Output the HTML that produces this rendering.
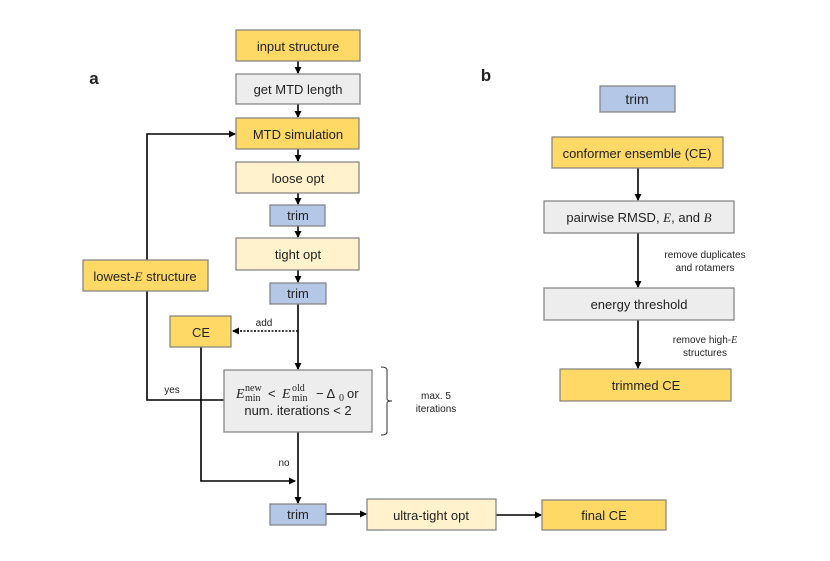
<!DOCTYPE html>
<html><head><meta charset="utf-8"><style>
body{margin:0;background:#fff;}
svg{display:block;font-family:"Liberation Sans",sans-serif;}
.b{stroke:#7f7f7f;stroke-width:1.2;}
.y{fill:#ffd966}.l{fill:#fff2cc}.u{fill:#b4c7e7}.g{fill:#ededed}
text{font-size:13px;fill:#222;text-anchor:middle;}
.s{font-size:10px;}
.m{font-family:"Liberation Serif",serif;font-style:italic;}
.st{font-family:"Liberation Serif",serif;font-size:10px;text-anchor:start;}
.f{text-anchor:start;}
line,path.c{stroke:#000;stroke-width:1.6;fill:none;}
</style></head><body>
<svg width="830" height="561" viewBox="0 0 830 561">
<defs><marker id="a" markerWidth="7" markerHeight="7" refX="6" refY="3.5" orient="auto" markerUnits="userSpaceOnUse"><path d="M0,0L7,3.5L0,7z" fill="#000"/></marker></defs>
<text x="94" y="84" style="font-size:17px;font-weight:bold">a</text>
<text x="486" y="81" style="font-size:17px;font-weight:bold">b</text>
<!-- connectors behind -->
<path class="c" d="M224,400H147V134H235" marker-end="url(#a)"/>
<path class="c" d="M201,347V481H295" marker-end="url(#a)"/>
<line x1="298" y1="61" x2="298" y2="73" marker-end="url(#a)"/>
<line x1="298" y1="104" x2="298" y2="117" marker-end="url(#a)"/>
<line x1="298" y1="149" x2="298" y2="161" marker-end="url(#a)"/>
<line x1="298" y1="193" x2="298" y2="204" marker-end="url(#a)"/>
<line x1="298" y1="226" x2="298" y2="237" marker-end="url(#a)"/>
<line x1="298" y1="270" x2="298" y2="282" marker-end="url(#a)"/>
<line x1="298" y1="304" x2="298" y2="369" marker-end="url(#a)"/>
<line x1="298" y1="331" x2="233" y2="331" style="stroke-dasharray:2 1.5" marker-end="url(#a)"/>
<line x1="298" y1="432" x2="298" y2="503" marker-end="url(#a)"/>
<line x1="326" y1="514" x2="366" y2="514" marker-end="url(#a)"/>
<line x1="496" y1="515" x2="541" y2="515" marker-end="url(#a)"/>
<!-- a column -->
<rect class="b y" x="236" y="30" width="124" height="31"/><text x="298" y="51">input structure</text>
<rect class="b g" x="236" y="74" width="124" height="30"/><text x="298" y="94">get MTD length</text>
<rect class="b y" x="236" y="118" width="123" height="31"/><text x="298" y="139">MTD simulation</text>
<rect class="b l" x="236" y="162" width="123" height="31"/><text x="298" y="183">loose opt</text>
<rect class="b u" x="270" y="205" width="55" height="21"/><text x="298" y="220">trim</text>
<rect class="b l" x="236" y="238" width="123" height="32"/><text x="298" y="259">tight opt</text>
<rect class="b u" x="270" y="283" width="56" height="21"/><text x="298" y="298">trim</text>
<rect class="b y" x="170" y="316" width="61" height="31"/><text x="201" y="337">CE</text>
<rect class="b y" x="83" y="260" width="125" height="31"/><text x="145" y="281">lowest-<tspan class="m">E</tspan> structure</text>
<rect class="b g" x="224" y="370" width="148" height="62"/>
<text x="236" y="398" class="m f" style="font-size:14px">E</text>
<text x="245" y="391" class="st">new</text>
<text x="245" y="401" class="st">min</text>
<text x="268" y="398" class="f">&lt;</text>
<text x="282" y="398" class="m f" style="font-size:14px">E</text>
<text x="292" y="391" class="st">old</text>
<text x="292" y="401" class="st">min</text>
<text x="316" y="398" class="f">− Δ</text>
<text x="339" y="401" class="st">0</text>
<text x="347" y="398" class="f">or</text>
<text x="298" y="415">num. iterations &lt; 2</text>
<rect class="b u" x="270" y="504" width="56" height="21"/><text x="298" y="519">trim</text>
<rect class="b l" x="367" y="499" width="129" height="31"/><text x="431" y="520">ultra-tight opt</text>
<rect class="b y" x="542" y="500" width="124" height="30"/><text x="604" y="520">final CE</text>
<text x="264" y="326" class="s">add</text>
<text x="172" y="393" class="s">yes</text>
<text x="284" y="466" class="s">no</text>
<path d="M381,367q6,0 6,3v29q0,2 5,2q-5,0 -5,2v29q0,3 -6,3" stroke="#333" stroke-width="1" fill="none"/>
<text x="436" y="399" class="s">max. 5</text>
<text x="436" y="412" class="s">iterations</text>
<!-- b -->
<line x1="638" y1="168" x2="638" y2="200" marker-end="url(#a)"/>
<line x1="638" y1="233" x2="638" y2="287" marker-end="url(#a)"/>
<line x1="638" y1="320" x2="638" y2="368" marker-end="url(#a)"/>
<rect class="b u" x="600" y="86" width="75" height="26"/><text x="637" y="104" style="font-size:14px">trim</text>
<rect class="b y" x="552" y="137" width="171" height="31"/><text x="637" y="158">conformer ensemble (CE)</text>
<rect class="b g" x="544" y="201" width="190" height="32"/><text x="639" y="222">pairwise RMSD, <tspan class="m">E</tspan>, and <tspan class="m">B</tspan></text>
<rect class="b g" x="544" y="288" width="190" height="32"/><text x="639" y="309">energy threshold</text>
<rect class="b y" x="560" y="369" width="171" height="32"/><text x="646" y="390">trimmed CE</text>
<text x="705" y="258" class="s">remove duplicates</text>
<text x="705" y="271" class="s">and rotamers</text>
<text x="705" y="343" class="s">remove high-<tspan class="m">E</tspan></text>
<text x="705" y="356" class="s">structures</text>
</svg>
</body></html>
